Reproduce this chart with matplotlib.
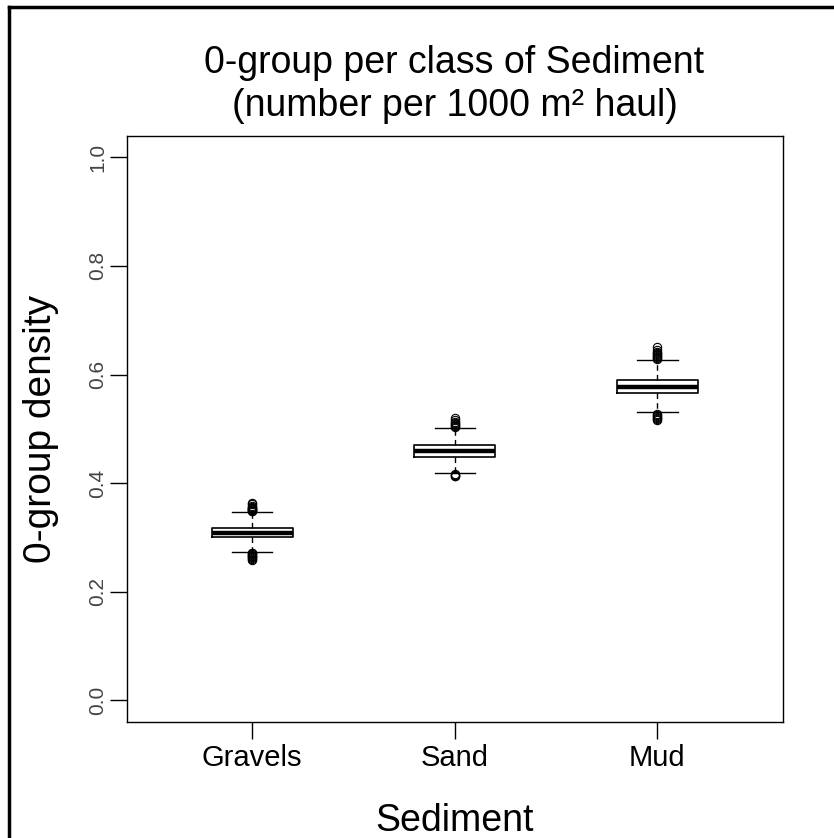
import matplotlib
matplotlib.use("Agg")
import matplotlib.pyplot as plt
from matplotlib.lines import Line2D

plt.rcParams['font.family'] = ['Liberation Sans', 'DejaVu Sans']

# box statistics per sediment class
sediments = ["Gravels", "Sand", "Mud"]
medians = [0.309, 0.460, 0.577]
q1 = [0.300, 0.448, 0.566]
q3 = [0.317, 0.470, 0.590]
whisk_lo = [0.274, 0.418, 0.531]
whisk_hi = [0.346, 0.502, 0.626]
outliers = [
    [0.258, 0.260, 0.262, 0.263, 0.265, 0.266, 0.268, 0.270, 0.271, 0.272,
     0.348, 0.349, 0.350, 0.351, 0.352, 0.353, 0.354, 0.355, 0.356, 0.358, 0.361, 0.364],
    [0.413, 0.414, 0.415, 0.416,
     0.504, 0.505, 0.507, 0.509, 0.511, 0.513, 0.516, 0.519],
    [0.516, 0.518, 0.520, 0.522, 0.524, 0.526, 0.528,
     0.628, 0.630, 0.632, 0.634, 0.636, 0.638, 0.640, 0.642, 0.645, 0.650],
]

stats = []
for i in range(len(sediments)):
    stats.append({"label": sediments[i], "med": medians[i], "q1": q1[i], "q3": q3[i],
                  "whislo": whisk_lo[i], "whishi": whisk_hi[i], "fliers": outliers[i]})

fig = plt.figure(figsize=(8.34, 8.38), dpi=100)
ax = fig.add_axes([0.1518, 0.1384, 0.787, 0.6998])

ax.bxp(stats, positions=[1, 2, 3], widths=0.4, capwidths=0.2,
       boxprops=dict(color="black", linewidth=1.2),
       medianprops=dict(color="black", linewidth=3.2),
       whiskerprops=dict(color="black", linewidth=1.0, linestyle=(0, (4, 3))),
       capprops=dict(color="black", linewidth=1.0),
       flierprops=dict(marker="o", markersize=6, markerfacecolor="none",
                       markeredgecolor="black", markeredgewidth=0.8))

ax.set_xlim(0.38, 3.62)
ax.set_ylim(-0.04, 1.04)
ax.set_xticks([1, 2, 3])
ax.set_xticklabels(sediments, fontsize=21)
ax.set_yticks([0.0, 0.2, 0.4, 0.6, 0.8, 1.0])
ax.set_yticklabels(["0.0", "0.2", "0.4", "0.6", "0.8", "1.0"], fontsize=15,
                   rotation=90, va="center", color="#444444")
ax.tick_params(axis="both", direction="out", length=12, width=1)
ax.tick_params(axis="x", pad=4)
ax.tick_params(axis="y", pad=2)
for s in ax.spines.values():
    s.set_linewidth(1.0)

ax.set_xlabel("Sediment", fontsize=27, labelpad=22)
ax.set_ylabel("0-group density", fontsize=28, labelpad=21)
fig.text(0.545, 0.899, "0-group per class of Sediment\n(number per 1000 m\u00b2 haul)",
         ha="center", va="center", fontsize=27, linespacing=1.25)

# frame line along the top and left of the figure
fig.add_artist(Line2D([9 / 834, 9 / 834], [0, 1 - 7.5 / 838], transform=fig.transFigure,
                      color="black", linewidth=2.5))
fig.add_artist(Line2D([9 / 834, 1], [1 - 7.5 / 838, 1 - 7.5 / 838], transform=fig.transFigure,
                      color="black", linewidth=2.5))

fig.savefig("out.png", dpi=100)
